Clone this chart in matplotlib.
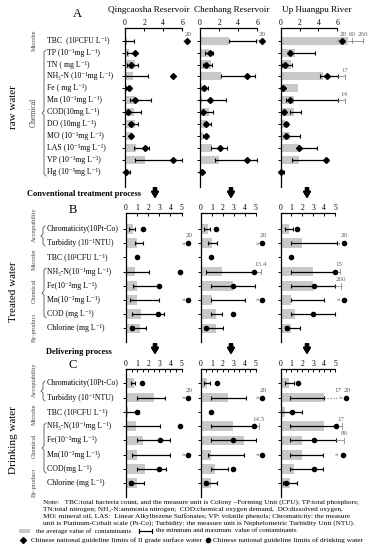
import numpy as np
import matplotlib
matplotlib.use('Agg')
import matplotlib.pyplot as plt
from matplotlib import transforms
from matplotlib.lines import Line2D
from matplotlib.patches import Rectangle

plt.rcParams['font.family'] = ['Liberation Serif', 'DejaVu Serif']
plt.rcParams['mathtext.fontset'] = 'stix'

nan = np.nan

# ---------------- data ----------------
sites = ['Qingcaosha Reservoir', 'Chenhang Reservoir', 'Up Huangpu River']

rows_a = ['TBC  (10²CFU L⁻¹)', 'TP (10⁻¹mg L⁻¹)', 'TN ( mg L⁻¹)',
          'NH₃-N (10⁻¹mg L⁻¹)', 'Fe ( mg L⁻¹)', 'Mn (10⁻¹mg L⁻¹)',
          'COD(10mg L⁻¹)', 'DO (10mg L⁻¹)', 'MO (10⁻¹mg L⁻¹)',
          'LAS (10⁻¹mg L⁻¹)', 'VP (10⁻³mg L⁻¹)', 'Hg (10⁻³mg L⁻¹)']
rows_b = ['Chromaticity(10Pt-Co)', 'Turbidity (10⁻¹NTU)', 'TBC (10²CFU L⁻¹)',
          'NH₃-N(10⁻¹mg L⁻¹)', 'Fe(10⁻²mg L⁻¹)', 'Mn(10⁻²mg L⁻¹)',
          'COD (mg L⁻¹)', 'Chlorine (mg L⁻¹)']
rows_c = rows_b[:6] + ['COD(mg L⁻¹)', 'Chlorine (mg L⁻¹)']

# raw water (A)
qa_mean = [0.25, 0.45, 1.05, 0.87, 0.17, 1.05, 0.95, 1.05, 0.70, 1.20, 2.10, 0.10]
qa_lo = [0.0, 0.2, 0.25, 0.0, 0.15, 0.5, 0.25, 0.4, 0.5, 0.95, 1.05, 0.0]
qa_hi = [0.95, 1.15, 1.4, 2.37, 0.45, 2.7, 1.65, 1.4, 0.75, 2.55, 6.0, 0.5]
qa_lim = [nan, 1.05, 0.6, 5.05, 0.42, 1.05, 0.35, 0.66, 0.6, 2.05, 5.0, 0.15]

ca_mean = [3.03, 0.94, 1.1, 2.2, 0.17, 0.25, 0.94, 0.7, 0.35, 1.22, 2.0, 0.1]
ca_lo = [3.0, 0.5, 0.35, 2.2, 0.17, 0.0, 0.25, 0.45, 0.3, 1.2, 1.57, 0.0]
ca_hi = [5.9, 1.4, 1.3, 5.8, 0.8, 2.7, 1.4, 1.15, 0.7, 2.8, 6.0, 0.35]
ca_lim = [nan, 1.05, 0.6, 4.95, 0.4, 1.0, 0.35, 0.66, 0.6, 2.1, 4.95, 0.17]

ua_mean = [7.1, 1.54, 1.05, 4.53, 1.86, 1.4, 1.46, 0.45, 0.95, 1.9, 1.95, 0.1]
ua_lo = [nan, 0.95, 0.15, 4.2, nan, 0.6, 0.95, 0.3, 0.45, 1.9, 1.25, 0.0]
ua_hi = [nan, 3.6, 1.25, 6.05, nan, 6.05, 2.1, 0.8, 2.0, 3.9, 4.8, 0.3]
ua_lim = [nan, 0.95, 0.45, 4.9, 0.2, 0.95, 0.35, 0.55, 0.6, 1.95, 4.8, 0.05]

# treated water (B)
qb_mean = [0.6, 0.96, nan, 0.8, 1.0, 1.0, 1.35, 1.3]
qb_lo = [0.3, 0.8, nan, 0.0, 0.6, 0.4, 0.5, 0.5]
qb_hi = [0.8, 1.55, nan, 2.07, 3.0, 3.0, 3.4, 1.8]
qb_lim = [1.5, nan, 0.96, 4.85, 3.0, nan, 2.9, 0.5]

cb_mean = [0.6, 0.97, nan, 1.94, 2.94, 0.97, 1.33, 1.36]
cb_lo = [0.3, 0.65, nan, 0.45, 0.9, 0.9, 0.9, 0.5]
cb_hi = [0.8, 1.5, nan, 4.8, 4.97, 4.0, 1.94, 1.97]
cb_lim = [1.4, nan, 0.9, 4.8, 2.94, nan, 2.9, 0.45]

ub_mean = [0.76, 2.0, nan, 2.97, 2.97, 0.94, 1.36, 0.94]
ub_lo = [0.45, 0.94, nan, 0.94, 0.94, 0.94, 0.94, 0.45]
ub_hi = [1.15, 5.18, nan, 5.0, 5.0, 3.97, 5.0, 1.8]
ub_lim = [1.55, nan, 1.0, 5.0, 3.03, nan, 2.97, 0.55]

# drinking water (C)
qc_mean = [0.73, 2.55, 0.2, 0.9, 1.5, 0.97, 1.73, 0.97]
qc_lo = [0.42, 1.03, 0.0, 0.0, 1.03, 0.58, 1.03, 0.3]
qc_hi = [0.82, 3.55, 1.2, 3.03, 4.0, 4.0, 3.64, 1.64]
qc_lim = [1.48, nan, 1.03, 4.9, 3.03, nan, 2.94, 0.42]

cc_mean = [0.58, 2.44, nan, 2.9, 3.94, 0.9, 1.27, 0.9]
cc_lo = [0.3, 0.9, nan, 0.9, 0.9, 0.6, 0.9, 0.3]
cc_hi = [0.82, 4.15, nan, 4.85, 5.0, 3.94, 2.48, 1.5]
cc_lim = [1.43, nan, 0.9, 4.85, 2.94, nan, 2.88, 0.42]

uc_mean = [0.82, 3.94, 0.45, 3.94, 1.97, 1.97, 1.27, 0.9]
uc_lo = [0.4, 0.9, 0.0, 0.9, 0.9, 0.9, 0.9, 0.24]
uc_hi = [1.2, 3.94, 1.97, 5.06, 5.06, 3.88, 3.85, 1.5]
uc_lim = [1.58, nan, 1.06, 5.06, 3.03, nan, 3.03, 0.5]

# limits beyond the axis: (row, break x, marker x, label)
qa_out = [(0, 6.17, 6.5, '20')]
ca_out = [(0, 6.1, 6.45, '20')]
ua_out = [(0, 6.1, 6.5, '20')]
qb_out = [(1, 5.2, 5.62, '20'), (5, 5.2, 5.62, '')]
cb_out = [(1, 5.2, 5.6, '20'), (5, 5.2, 5.6, '')]
ub_out = [(1, 5.3, 5.76, '20'), (5, 5.25, 5.76, '')]
qc_out = [(1, 5.2, 5.62, '20'), (5, 5.2, 5.62, '')]
cc_out = [(1, 5.2, 5.6, '20'), (5, 5.2, 5.6, '')]
uc_out = [(1, 5.45, 6.02, '20'), (5, 5.15, 5.75, '')]

# maximum values beyond the axis: (row, from, to, label)
ua_ext = [(3, 6.05, 6.84, '17'), (5, 6.05, 6.8, '14')]
cb_ext = [(3, 4.8, 5.5, '13.4')]
ub_ext = [(3, 5.0, 5.4, '15'), (4, 5.0, 5.55, '260')]
cc_ext = [(3, 4.85, 5.27, '14.5')]
uc_ext = [(3, 5.06, 5.6, '17'), (4, 5.06, 5.85, '86')]

W, H = 372, 550
fig = plt.figure(figsize=(W / 100, H / 100), dpi=100)


def fx(px):
    return px / W


def fy(py):
    return 1 - py / H


def panel(rect, mean, lo, hi, lim, mk, xmax, ylim, ticks, out=(), ext=(), minor=False):
    x0, x1, y0, y1 = rect
    ax = fig.add_axes([fx(x0), fy(y1), fx(x1 - x0), (y1 - y0) / H])
    mean, lo, hi, lim = map(np.array, (mean, lo, hi, lim))
    y = np.arange(len(mean))
    m = ~np.isnan(mean)
    bars = ax.barh(y[m], mean[m], height=0.68, color='#c8c8c8', zorder=1)
    for b in bars:
        b.set_clip_on(False)
    m = ~np.isnan(lo)
    eb = ax.errorbar((lo[m] + hi[m]) / 2, y[m], xerr=(hi[m] - lo[m]) / 2, fmt='none',
                     ecolor='k', elinewidth=0.9, capsize=1.3, capthick=0.8, zorder=2)
    for art in eb.get_children():
        art.set_clip_on(False)
    ax.plot(lim, y, mk, color='k', ms=3.0, ls='none', zorder=3, clip_on=False)
    for r, xb, xm, lab in out:
        ax.text(xb, r, '»', fontsize=5, color='#444', ha='center', va='center', clip_on=False)
        ax.plot([xm], [r], mk, color='k', ms=3.0, clip_on=False)
        if lab:
            ax.text(xm + 0.1, r - 0.35, lab, fontsize=5, color='#555', ha='center', va='bottom')
    for r, a, b, lab in ext:
        ax.plot([a, b], [r, r], color='#888', lw=0.6, clip_on=False)
        ax.plot([b, b], [r - 0.2, r + 0.2], color='#888', lw=0.6, clip_on=False)
        ax.text(b - 0.05, r - 0.3, lab, fontsize=5, color='#666', ha='center', va='bottom')
    ax.set_xlim(0, xmax)
    ax.set_ylim(*ylim)
    ax.patch.set_visible(False)
    for s in ('right', 'bottom'):
        ax.spines[s].set_visible(False)
    for s in ('top', 'left'):
        ax.spines[s].set_linewidth(0.9)
    ax.xaxis.tick_top()
    ax.set_xticks(ticks)
    ax.set_xticklabels([str(t) for t in ticks])
    if minor:
        ax.set_xticks(np.arange(0, xmax + 0.01, 0.5), minor=True)
    ax.tick_params(axis='x', which='both', direction='in', length=2.5, width=0.7, labelsize=5.5, pad=1)
    ax.set_yticks(y)
    ax.set_yticklabels([])
    ax.tick_params(axis='y', direction='out', length=2, width=0.7)
    return ax


def row_labels(ax, labels, x=47):
    tr = transforms.blended_transform_factory(fig.transFigure, ax.transData)
    for i, t in enumerate(labels):
        ax.text(fx(x), i, t, transform=tr, fontsize=5.6, ha='left', va='center')


def brace(x, top, bot, mid):
    xs = [x + 2, x, x, x - 2, x, x, x + 2]
    ys = [top, top + 2, mid - 2, mid, mid + 2, bot - 2, bot]
    fig.add_artist(Line2D([fx(v) for v in xs], [fy(v) for v in ys], color='#555', lw=0.6))


def vtext(x, y, s, size, color='k'):
    fig.text(fx(x), fy(y), s, rotation=90, fontsize=size, color=color, ha='center', va='center')


xa = [(125, 182.3), (200, 257.3), (280.7, 337.3)]
xb = [(126, 181.5), (201, 255.7), (280.5, 335.2)]

A = [(qa_mean, qa_lo, qa_hi, qa_lim, qa_out, ()),
     (ca_mean, ca_lo, ca_hi, ca_lim, ca_out, ()),
     (ua_mean, ua_lo, ua_hi, ua_lim, ua_out, ua_ext)]
B = [(qb_mean, qb_lo, qb_hi, qb_lim, qb_out, ()),
     (cb_mean, cb_lo, cb_hi, cb_lim, cb_out, cb_ext),
     (ub_mean, ub_lo, ub_hi, ub_lim, ub_out, ub_ext)]
C = [(qc_mean, qc_lo, qc_hi, qc_lim, qc_out, ()),
     (cc_mean, cc_lo, cc_hi, cc_lim, cc_out, cc_ext),
     (uc_mean, uc_lo, uc_hi, uc_lim, uc_out, uc_ext)]

axA = [panel((xa[i][0], xa[i][1], 28.3, 186.7), *d[:4], 'D', 6, (12.26, -1.04), [0, 2, 4, 6],
             out=d[4], ext=d[5]) for i, d in enumerate(A)]
axB = [panel((xb[i][0], xb[i][1], 213, 341.7), *d[:4], 'o', 5, (7.94, -1.13), [0, 1, 2, 3, 4, 5],
             out=d[4], ext=d[5]) for i, d in enumerate(B)]
axC = [panel((xb[i][0], xb[i][1], 369, 496.7), *d[:4], 'o', 5, (7.94, -1.0), [0, 1, 2, 3, 4, 5],
             out=d[4], ext=d[5], minor=True) for i, d in enumerate(C)]

# special marks on Up Huangpu TBC (raw) and turbidity (drinking)
ax = axA[2]
ax.plot([7.1, 8.75], [0, 0], color='#888', lw=0.6, clip_on=False)
for xv, lab in [(7.6, '60'), (8.75, '260')]:
    ax.plot([xv, xv], [-0.2, 0.2], color='#888', lw=0.6, clip_on=False)
    ax.text(xv, -0.3, lab, fontsize=5, color='#666', ha='center', va='bottom')
ax = axC[2]
ax.plot([3.94, 5.3], [1, 1], color='#777', lw=0.8, ls=':', clip_on=False)
ax.text(5.25, 0.65, '17', fontsize=5, color='#555', ha='center', va='bottom')

row_labels(axA[0], rows_a)
row_labels(axB[0], rows_b)
row_labels(axC[0], rows_c)

for i, s in enumerate(sites):
    cx = [149, 232, 317][i]
    fig.text(fx(cx), fy(10), s, fontsize=6.6, ha='center', va='center')

fig.text(fx(77), fy(14), 'A', fontsize=9, ha='center', va='center')
fig.text(fx(73), fy(210), 'B', fontsize=9, ha='center', va='center')
fig.text(fx(73), fy(365), 'C', fontsize=9, ha='center', va='center')

vtext(14, 107, 'raw water', 8)
vtext(14, 292, 'Treated water', 8)
vtext(14, 440, 'Drinking water', 8)

vtext(34, 40, 'Microbe', 4.6, '#444')
vtext(34, 112, 'Chemical', 5.5, '#444')
brace(44, 50, 176, 113)
for off in (0, 155):
    vtext(34, 225 + off, 'Acceptability', 4.6, '#444')
    vtext(34, 259 + off, 'Microbe', 4.6, '#444')
    vtext(34, 291 + off, 'Chemical', 4.6, '#444')
    vtext(34, 327 + off, 'By-product', 4.6, '#444')
    brace(43, 226 + off, 246 + off, 236 + off)
    brace(44, 268 + off, 318 + off, 293 + off)

# process arrows
fig.text(fx(27), fy(194), 'Conventional treatment process', fontsize=6, fontweight='bold',
         ha='left', va='center')
fig.text(fx(46), fy(352), 'Delivering process', fontsize=6, fontweight='bold',
         ha='left', va='center')
for xv in (155, 231, 307):
    for ya, yb in ((185, 200), (341, 356)):
        fig.add_artist(plt.annotate('', xy=(fx(xv), fy(yb)), xytext=(fx(xv), fy(ya)),
                                    xycoords='figure fraction', textcoords='figure fraction',
                                    arrowprops=dict(arrowstyle='simple,head_width=0.7,head_length=0.6,tail_width=0.3',
                                                    color='k', mutation_scale=7)))

notes = ['Note:   TBC:total bacteria count, and the measure unit is Colony –Forming Unit (CFU); TP:total phosphors;',
         'TN:total nitrogen; NH₃-N:ammonia nitrogen;  COD:chemical oxygen demand,  DO:dissolved oxygen,',
         'MO: mineral oil, LAS:  Linear Alkylbezene Sulfonates; VP: volatile phenols; Chromaticity: the measure',
         'unit is Platinum-Cobalt scale (Pt-Co); Turbidity: the measure unit is Nephelometric Turbidity Unit (NTU).']
for i, t in enumerate(notes):
    fig.text(fx(43), fy(502 + 7.2 * i), t, fontsize=5.2, ha='left', va='center')

# legend
fig.add_artist(Rectangle((fx(19), fy(533)), fx(11), 4 / H, transform=fig.transFigure,
                         color='#c8c8c8', lw=0))
fig.text(fx(36), fy(531), 'the average value of  contaminants', fontsize=4.9, ha='left', va='center')
fig.add_artist(Line2D([fx(139), fx(152)], [fy(531), fy(531)], color='k', lw=0.9))
for xv in (139, 152):
    fig.add_artist(Line2D([fx(xv), fx(xv)], [fy(529), fy(533)], color='k', lw=0.8))
fig.text(fx(156), fy(531), 'the minmum and maxmum  value of contaminants', fontsize=5.0,
         ha='left', va='center')
fig.add_artist(Line2D([fx(23)], [fy(540)], marker='D', color='k', ms=3))
fig.text(fx(31), fy(540), 'Chinese national guideline limits of II grade surface water', fontsize=5.2,
         ha='left', va='center')
fig.add_artist(Line2D([fx(208)], [fy(540)], marker='o', color='k', ms=3))
fig.text(fx(213), fy(540), 'Chinese national guideline limits of drinking water', fontsize=5.2,
         ha='left', va='center')

fig.savefig('out.png', dpi=100)
